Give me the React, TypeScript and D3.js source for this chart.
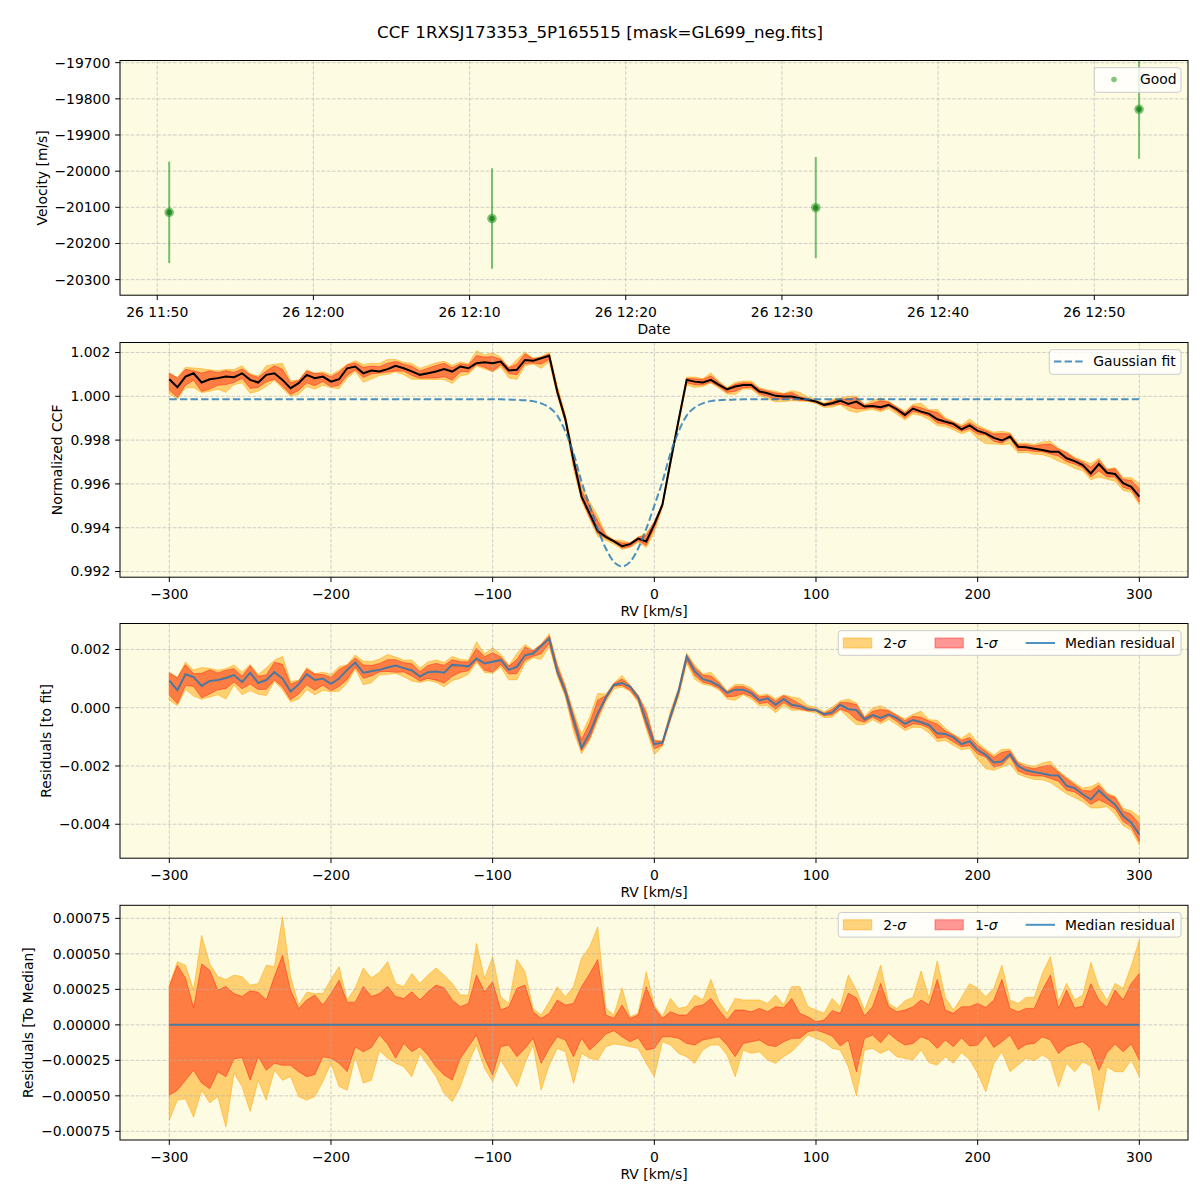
import * as d3 from 'd3'
import React from 'react'

// ---------- data ----------

const TITLE = 'CCF 1RXSJ173353_5P165515 [mask=GL699_neg.fits]'

// top panel: velocity time series
const obsTimes = ['2023-07-26T11:50:46', '2023-07-26T12:11:26', '2023-07-26T12:32:10', '2023-07-26T12:52:52']
const obsVelocity = [-20114, -20131, -20101, -19829]
const obsVelocityErr = [140, 139, 140, 137]
const timeDomain = ['2023-07-26T11:47:37', '2023-07-26T12:56:00']

// tick values
const velTicks = [-20300, -20200, -20100, -20000, -19900, -19800, -19700]
const ccfTicks = [0.992, 0.994, 0.996, 0.998, 1.0, 1.002]
const residTicks = [-0.004, -0.002, 0, 0.002]
const medTicks = [-0.00075, -0.0005, -0.00025, 0, 0.00025, 0.0005, 0.00075]
const rvTicks = [-300, -200, -100, 0, 100, 200, 300]

// RV sampling grid, km/s
const rvGrid = d3.range(-300, 301, 5)

// gaussian fit: continuum and depth below it (x1e-5)
const fitContinuum = 0.99986
const fitDepthE5 = [
  0, 0, 0, 0, 0, 0, 0, 0, 0, 0,
  0, 0, 0, 0, 0, 0, 0, 0, 0, 0,
  0, 0, 0, 0, 0, 0, 0, 0, 0, 0,
  0, 0, 0, 0, 0, 0, 0, 0, 0, 0,
  0, 0, 1, 2, 4, 8, 18, 37, 74, 147,
  246, 376, 485, 591, 681, 742, 763, 742, 681, 591,
  485, 376, 246, 147, 74, 37, 18, 8, 4, 2,
  1, 0, 0, 0, 0, 0, 0, 0, 0, 0,
  0, 0, 0, 0, 0, 0, 0, 0, 0, 0,
  0, 0, 0, 0, 0, 0, 0, 0, 0, 0,
  0, 0, 0, 0, 0, 0, 0, 0, 0, 0,
  0, 0, 0, 0, 0, 0, 0, 0, 0, 0,
  0,
]

// median CCF minus 1 (x1e-3)
const ccfMedianE3 = [
  0.78, 0.41, 0.90, 1.05, 0.63, 0.78, 0.83, 0.90, 0.87, 1.05,
  0.75, 0.63, 0.98, 1.05, 0.75, 0.37, 0.60, 0.98, 0.83, 0.90,
  0.67, 0.78, 1.28, 1.36, 1.05, 1.18, 1.13, 1.24, 1.39, 1.28,
  1.14, 0.98, 1.05, 1.13, 1.25, 1.13, 1.36, 1.28, 1.51, 1.56,
  1.51, 1.59, 1.18, 1.21, 1.66, 1.62, 1.74, 1.85, 0.20, -1.05,
  -2.91, -4.58, -5.36, -6.15, -6.42, -6.62, -6.84, -6.75, -6.50, -6.63,
  -5.85, -4.95, -3.00, -1.10, 0.75, 0.67, 0.63, 0.75, 0.52, 0.32,
  0.45, 0.52, 0.52, 0.22, 0.14, 0.02, -0.01, -0.01, -0.09, -0.16,
  -0.24, -0.39, -0.32, -0.20, -0.35, -0.24, -0.47, -0.44, -0.50, -0.39,
  -0.59, -0.85, -0.56, -0.70, -0.80, -1.05, -1.16, -1.26, -1.51, -1.33,
  -1.58, -1.69, -1.90, -2.02, -1.84, -2.30, -2.33, -2.39, -2.45, -2.53,
  -2.53, -2.83, -2.96, -3.14, -3.52, -3.09, -3.49, -3.55, -3.97, -4.13,
  -4.58,
]

// median residual to the fit (x1e-3)
const residMedianE3 = [
  0.93, 0.60, 1.15, 1.05, 0.75, 0.92, 0.95, 1.02, 1.12, 0.88,
  1.20, 0.85, 0.95, 1.22, 1.00, 0.56, 0.80, 1.15, 0.95, 1.00,
  0.82, 1.00, 1.30, 1.55, 1.20, 1.25, 1.30, 1.38, 1.45, 1.36,
  1.28, 1.07, 1.22, 1.24, 1.20, 1.47, 1.45, 1.42, 1.69, 1.52,
  1.58, 1.64, 1.30, 1.40, 1.80, 1.86, 2.12, 2.38, 1.25, 0.55,
  -0.40, -1.38, -0.88, -0.20, 0.35, 0.78, 0.85, 0.72, 0.35, -0.45,
  -1.25, -1.20, -0.30, 0.56, 1.75, 1.25, 0.98, 0.90, 0.75, 0.51,
  0.62, 0.62, 0.50, 0.25, 0.32, 0.10, 0.30, 0.10, 0.05, -0.06,
  -0.08, -0.22, -0.16, 0.10, -0.05, -0.08, -0.40, -0.25, -0.35, -0.23,
  -0.36, -0.55, -0.42, -0.50, -0.60, -0.88, -0.90, -1.02, -1.25, -1.15,
  -1.45, -1.62, -1.88, -1.85, -1.60, -2.00, -2.15, -2.21, -2.26, -2.32,
  -2.33, -2.68, -2.76, -2.97, -3.15, -2.84, -3.10, -3.33, -3.72, -3.95,
  -4.35,
]

// percentile spread around the median (x1e-4)
const sig2UpE4 = [
  2.8, 4.45, 4.2, 2.45, 6.3, 4.3, 3.4, 3.2, 3.5, 3.4,
  2.8, 2.9, 4.2, 4.1, 7.6, 3.4, 1.4, 2.3, 2.2, 2.2,
  3.2, 4.1, 1.75, 2.6, 4.0, 3.3, 3.7, 4.45, 2.9, 2.69,
  3.62, 2.92, 3.51, 4.0, 3.5, 2.92, 2.10, 2.10, 5.74, 3.27,
  4.8, 1.98, 1.51, 4.6, 3.74, 1.16, 0.69, 1.63, 2.69, 1.98,
  2.69, 4.7, 5.5, 6.9, 1.16, 0.69, 2.6, 0.57, 0.81, 3.74,
  1.39, 0.57, 1.86, 1.16, 1.28, 2.10, 1.75, 3.2, 1.63, 0.81,
  1.86, 1.75, 1.75, 1.75, 1.51, 2.10, 1.39, 2.69, 2.69, 1.28,
  1.04, 0.81, 1.86, 1.28, 3.51, 2.45, 1.04, 2.45, 4.21, 1.51,
  1.16, 1.70, 1.93, 3.8, 1.86, 4.5, 1.93, 1.04, 1.93, 2.9,
  2.57, 1.98, 2.57, 4.2, 1.75, 1.51, 1.93, 1.93, 3.62, 4.8,
  1.63, 2.92, 1.75, 2.10, 4.4, 2.69, 1.70, 2.92, 2.57, 4.14,
  5.97,
]
const sig1UpE4 = [
  2.7, 4.2, 3.3, 1.2, 4.3, 3.85, 2.45, 2.7, 2.2, 2.0,
  2.4, 2.3, 1.75, 3.4, 4.9, 2.45, 1.15, 1.75, 2.1, 1.4,
  2.2, 3.15, 1.6, 1.6, 2.7, 2.0, 2.2, 2.7, 2.0, 1.86,
  2.33, 1.75, 2.33, 2.8, 2.6, 1.75, 1.28, 1.51, 3.51, 2.33,
  3.04, 1.04, 1.28, 2.57, 2.80, 0.92, 0.46, 0.81, 1.75, 1.39,
  1.51, 2.69, 3.6, 4.6, 0.69, 0.46, 1.39, 0.45, 0.69, 2.69,
  1.2, 0.46, 0.92, 0.69, 0.69, 1.28, 1.39, 1.86, 1.04, 0.34,
  1.04, 1.04, 0.92, 1.16, 0.92, 1.28, 1.2, 1.86, 0.81, 0.57,
  0.22, 0.34, 1.00, 0.81, 2.22, 1.9, 0.62, 1.28, 2.92, 1.28,
  0.92, 1.04, 1.28, 1.75, 1.39, 3.2, 1.04, 0.81, 1.28, 1.28,
  1.51, 1.23, 1.75, 3.2, 1.16, 0.92, 1.16, 1.16, 2.45, 3.5,
  1.16, 2.45, 1.18, 1.32, 2.9, 1.75, 1.23, 2.45, 1.75, 2.92,
  3.62,
]
const sig1LoE4 = [
  -4.95, -4.6, -3.9, -3.2, -4.1, -4.5, -3.3, -3.65, -2.4, -2.3,
  -3.9, -2.25, -3.2, -2.7, -2.85, -2.85, -3.3, -3.65, -3.5, -2.25,
  -2.35, -2.7, -3.3, -1.55, -1.9, -1.6, -0.7, -1.35, -2.35, -1.31,
  -1.89, -1.54, -2.13, -2.95, -3.54, -3.89, -2.36, -1.54, -0.72, -2.36,
  -3.54, -1.54, -1.42, -2.24, -1.66, -0.95, -2.71, -1.66, -0.84, -1.07,
  -2.24, -0.95, -1.77, -1.26, -0.65, -0.41, -0.84, -1.19, -0.91, -1.77,
  -1.66, -0.84, -0.84, -0.95, -1.31, -1.42, -1.07, -0.95, -0.84, -1.42,
  -2.24, -1.31, -1.19, -1.07, -1.42, -1.54, -1.19, -0.95, -0.95, -0.48,
  -0.37, -0.55, -0.79, -1.49, -1.07, -3.3, -0.95, -0.72, -1.26, -0.60,
  -1.07, -1.42, -1.31, -0.84, -1.07, -1.66, -1.07, -1.54, -0.91, -1.49,
  -1.42, -0.74, -1.59, -1.19, -0.72, -1.73, -1.38, -1.31, -0.84, -1.07,
  -2.01, -1.54, -1.35, -1.19, -1.66, -3.2, -1.96, -1.35, -1.89, -1.35,
  -2.48,
]
const sig2LoE4 = [
  -6.7, -5.3, -5.2, -6.5, -4.6, -5.5, -5.05, -7.2, -3.4, -4.35,
  -6.1, -3.9, -5.3, -3.2, -3.9, -3.65, -5.05, -5.3, -5.05, -4.0,
  -2.7, -4.35, -4.6, -2.25, -4.1, -3.9, -1.8, -2.35, -2.7, -2.95,
  -3.65, -2.01, -2.83, -3.65, -4.83, -5.41, -4.36, -2.71, -1.42, -3.07,
  -4.0, -2.48, -3.42, -4.36, -2.71, -1.42, -4.59, -2.83, -1.66, -1.89,
  -4.12, -2.01, -2.36, -2.48, -1.54, -1.35, -1.42, -1.54, -1.66, -2.71,
  -3.65, -1.19, -1.42, -2.01, -2.24, -2.71, -1.77, -1.42, -1.42, -2.13,
  -3.65, -1.77, -2.01, -1.89, -2.48, -2.71, -2.24, -1.89, -1.31, -0.72,
  -0.95, -1.19, -1.66, -1.77, -2.95, -5.0, -1.77, -1.66, -2.01, -1.73,
  -2.24, -2.36, -2.48, -1.77, -2.67, -2.83, -2.24, -2.71, -1.96, -2.43,
  -3.42, -4.71, -2.71, -1.89, -3.30, -2.83, -2.36, -2.53, -2.13, -2.48,
  -4.36, -2.71, -3.30, -2.60, -2.90, -6.0, -2.95, -3.30, -3.30, -2.48,
  -3.65,
]

// ---------- layout ----------

const W = 1200
const H = 1200
const LEFT = 120
const RIGHT = 1188
const PH = 234.7
const TOPS = [60.5, 342.5, 623.5, 905.3]
const BG = '#fdfbe2'
const FONT = "'DejaVu Sans', sans-serif"
const FS = 13.9
const TICK = 4.86
const ORANGE = '#ffa500'
const RED = '#ff0000'
const C0 = '#1f77b4'
const GREEN = '#2ca02c'

const xRV = d3.scaleLinear().domain([-330.5, 330.1]).range([LEFT, RIGHT])

type Scale = d3.ScaleLinear<number, number>

function Legend({ top, x0, children }: { top: number; x0: number; children: React.ReactNode }) {
  return (
    <g>
      <rect x={x0} y={top + 7.2} width={RIGHT - 7 - x0} height={24.6} rx={3}
        fill="white" fillOpacity={0.8} stroke="#cccccc" strokeWidth={1} />
      {children}
    </g>
  )
}

function SigmaLegend({ top }: { top: number }) {
  const cy = top + 19.5
  return (
    <Legend top={top} x0={838.3}>
      <rect x={843.3} y={cy - 5} width={28.4} height={10} fill={ORANGE} fillOpacity={0.5}
        stroke={ORANGE} strokeOpacity={0.5} />
      <text x={883.3} y={cy} dy="0.35em" fontSize={FS}>2-<tspan fontStyle="italic">σ</tspan></text>
      <rect x={935} y={cy - 5} width={28.3} height={10} fill={RED} fillOpacity={0.4}
        stroke={RED} strokeOpacity={0.4} />
      <text x={975} y={cy} dy="0.35em" fontSize={FS}>1-<tspan fontStyle="italic">σ</tspan></text>
      <line x1={1025.7} x2={1055} y1={cy} y2={cy} stroke={C0} strokeOpacity={0.8} strokeWidth={2} />
      <text x={1065} y={cy} dy="0.35em" fontSize={FS}>Median residual</text>
    </Legend>
  )
}

interface PanelProps {
  idx: number
  y: Scale
  yTicks: number[]
  yFmt: (v: number) => string
  yLabel: string
  yLabelX: number
  xTicks: any[]
  xPos: (v: any) => number
  xFmt: (v: any) => string
  xLabel: string
  under?: React.ReactNode
  over?: React.ReactNode
  legend?: React.ReactNode
}

function Panel(p: PanelProps) {
  const top = TOPS[p.idx]
  const bottom = top + PH
  const clip = `clip-${p.idx}`
  return (
    <g>
      <defs>
        <clipPath id={clip}>
          <rect x={LEFT} y={top} width={RIGHT - LEFT} height={PH} />
        </clipPath>
      </defs>
      <rect x={LEFT} y={top} width={RIGHT - LEFT} height={PH} fill={BG} />
      <g clipPath={`url(#${clip})`}>{p.under}</g>
      <g stroke="#b0b0b0" strokeOpacity={0.6} strokeWidth={1} strokeDasharray="3.7,1.6">
        {p.xTicks.map((t, i) => (
          <line key={'gx' + i} x1={p.xPos(t)} x2={p.xPos(t)} y1={top} y2={bottom} />
        ))}
        {p.yTicks.map((t, i) => (
          <line key={'gy' + i} x1={LEFT} x2={RIGHT} y1={p.y(t)} y2={p.y(t)} />
        ))}
      </g>
      <g clipPath={`url(#${clip})`}>{p.over}</g>
      <rect x={LEFT} y={top} width={RIGHT - LEFT} height={PH} fill="none" stroke="black" strokeWidth={1} />
      {p.xTicks.map((t, i) => (
        <g key={'tx' + i}>
          <line x1={p.xPos(t)} x2={p.xPos(t)} y1={bottom} y2={bottom + TICK} stroke="black" />
          <text x={p.xPos(t)} y={bottom + 22} textAnchor="middle" fontSize={FS}>{p.xFmt(t)}</text>
        </g>
      ))}
      {p.yTicks.map((t, i) => (
        <g key={'ty' + i}>
          <line x1={LEFT - TICK} x2={LEFT} y1={p.y(t)} y2={p.y(t)} stroke="black" />
          <text x={LEFT - 9.7} y={p.y(t)} dy="0.35em" textAnchor="end" fontSize={FS}>{p.yFmt(t)}</text>
        </g>
      ))}
      <text x={(LEFT + RIGHT) / 2} y={bottom + 39} textAnchor="middle" fontSize={FS}>{p.xLabel}</text>
      <text transform={`translate(${p.yLabelX},${top + PH / 2}) rotate(-90)`} dy="0.35em"
        textAnchor="middle" fontSize={FS}>{p.yLabel}</text>
      {p.legend}
    </g>
  )
}

export default function App() {
  // derived series
  const fit = fitDepthE5.map(d => fitContinuum - d * 1e-5)
  const ccf = ccfMedianE3.map(v => 1 + v * 1e-3)
  const resid = residMedianE3.map(v => v * 1e-3)
  const zero = rvGrid.map(() => 0) // residual median relative to itself
  const s2u = sig2UpE4.map(v => v * 1e-4)
  const s1u = sig1UpE4.map(v => v * 1e-4)
  const s1l = sig1LoE4.map(v => v * 1e-4)
  const s2l = sig2LoE4.map(v => v * 1e-4)

  const y1 = d3.scaleLinear().domain([-20343, -19694]).range([TOPS[0] + PH, TOPS[0]])
  const y2 = d3.scaleLinear().domain([0.99174, 1.002457]).range([TOPS[1] + PH, TOPS[1]])
  const y3 = d3.scaleLinear().domain([-0.005166, 0.002891]).range([TOPS[2] + PH, TOPS[2]])
  const y4 = d3.scaleLinear().domain([-0.000811, 0.000842]).range([TOPS[3] + PH, TOPS[3]])

  const xTime = d3.scaleTime()
    .domain(timeDomain.map(t => new Date(t)))
    .range([LEFT, RIGHT])
  const timeTicks = xTime.ticks(d3.timeMinute.every(10) as d3.TimeInterval)
  const timeFmt = d3.timeFormat('%d %H:%M')

  const band = (y: Scale, base: number[], lo: number[], hi: number[]) =>
    d3.area<number>()
      .x((_, i) => xRV(rvGrid[i]))
      .y0((_, i) => y(base[i] + lo[i]))
      .y1((_, i) => y(base[i] + hi[i]))(base) || ''

  const line = (y: Scale, vals: number[], curve: d3.CurveFactory = d3.curveLinear) =>
    d3.line<number>()
      .x((_, i) => xRV(rvGrid[i]))
      .y(v => y(v))
      .curve(curve)(vals) || ''

  const bands = (y: Scale, base: number[]) => (
    <g>
      <path d={band(y, base, s2l, s2u)} fill={ORANGE} fillOpacity={0.5}
        stroke={ORANGE} strokeOpacity={0.5} strokeWidth={1} />
      <path d={band(y, base, s1l, s1u)} fill={RED} fillOpacity={0.4}
        stroke={RED} strokeOpacity={0.4} strokeWidth={1} />
    </g>
  )

  const fmtInt = d3.format('d')
  const fmt3 = d3.format('.3f')
  const fmt5 = d3.format('.5f')

  return (
    <svg width={W} height={H} style={{ position: 'absolute', left: 0, top: 0, background: 'white' }}
      fontFamily={FONT} fill="black">
      <text x={600} y={38} textAnchor="middle" fontSize={16.7}>{TITLE}</text>

      {/* velocity vs time */}
      <Panel idx={0} y={y1} yTicks={velTicks} yFmt={fmtInt} yLabel="Velocity [m/s]" yLabelX={41.7}
        xTicks={timeTicks} xPos={(t: Date) => xTime(t)} xFmt={(t: Date) => timeFmt(t)} xLabel="Date"
        over={
          <g>
            {obsTimes.map((t, i) => {
              const cx = xTime(new Date(t))
              return (
                <g key={t}>
                  <line x1={cx} x2={cx} y1={y1(obsVelocity[i] + obsVelocityErr[i])}
                    y2={y1(obsVelocity[i] - obsVelocityErr[i])}
                    stroke={GREEN} strokeOpacity={0.65} strokeWidth={2} />
                  <circle cx={cx} cy={y1(obsVelocity[i])} r={4.8} fill={GREEN} fillOpacity={0.6} />
                  <circle cx={cx} cy={y1(obsVelocity[i])} r={2.8} fill="#167a16" fillOpacity={0.75} />
                </g>
              )
            })}
          </g>
        }
        legend={
          <Legend top={TOPS[0]} x0={1094.3}>
            <circle cx={1114} cy={TOPS[0] + 19} r={2.8} fill={GREEN} fillOpacity={0.6} />
            <text x={1140} y={TOPS[0] + 19} dy="0.35em" fontSize={FS}>Good</text>
          </Legend>
        }
      />

      {/* normalized CCF */}
      <Panel idx={1} y={y2} yTicks={ccfTicks} yFmt={fmt3} yLabel="Normalized CCF" yLabelX={56.7}
        xTicks={rvTicks} xPos={(v: number) => xRV(v)} xFmt={fmtInt} xLabel="RV [km/s]"
        under={bands(y2, ccf)}
        over={
          <g fill="none">
            <path d={line(y2, ccf)} stroke="black" strokeWidth={2} />
            <path d={line(y2, fit, d3.curveMonotoneX)} stroke={C0} strokeOpacity={0.8}
              strokeWidth={2} strokeDasharray="7.4,3.2" />
          </g>
        }
        legend={
          <Legend top={TOPS[1]} x0={1049.3}>
            <line x1={1054} x2={1082.7} y1={TOPS[1] + 19} y2={TOPS[1] + 19} stroke={C0}
              strokeOpacity={0.8} strokeWidth={2} strokeDasharray="7.4,3.2" />
            <text x={1093.3} y={TOPS[1] + 19} dy="0.35em" fontSize={FS}>Gaussian fit</text>
          </Legend>
        }
      />

      {/* residuals to fit */}
      <Panel idx={2} y={y3} yTicks={residTicks} yFmt={fmt3} yLabel="Residuals [to fit]" yLabelX={45.7}
        xTicks={rvTicks} xPos={(v: number) => xRV(v)} xFmt={fmtInt} xLabel="RV [km/s]"
        under={bands(y3, resid)}
        over={<path d={line(y3, resid)} fill="none" stroke={C0} strokeOpacity={0.8} strokeWidth={2} />}
        legend={<SigmaLegend top={TOPS[2]} />}
      />

      {/* residuals to median */}
      <Panel idx={3} y={y4} yTicks={medTicks} yFmt={fmt5} yLabel="Residuals [To Median]" yLabelX={28.3}
        xTicks={rvTicks} xPos={(v: number) => xRV(v)} xFmt={fmtInt} xLabel="RV [km/s]"
        under={bands(y4, zero)}
        over={<path d={line(y4, zero)} fill="none" stroke={C0} strokeOpacity={0.8} strokeWidth={2} />}
        legend={<SigmaLegend top={TOPS[3]} />}
      />
    </svg>
  )
}
